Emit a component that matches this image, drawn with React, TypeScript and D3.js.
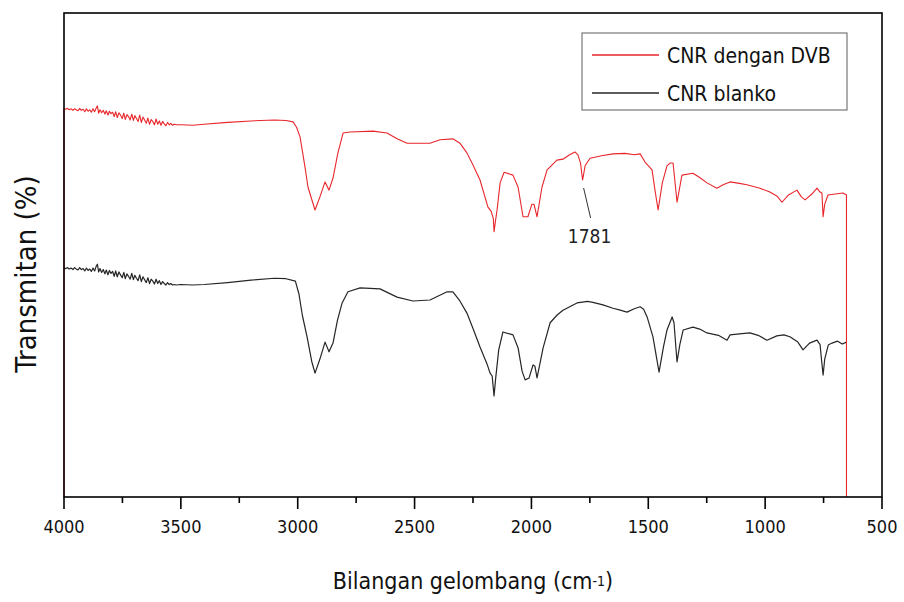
import React from "react";
import * as d3 from "d3";

const xTicks = [4000, 3500, 3000, 2500, 2000, 1500, 1000, 500];
const xMinorTicks = [3750, 3250, 2750, 2250, 1750, 1250, 750];

const seriesNames = ["CNR dengan DVB", "CNR blanko"];
const seriesColors = ["#e8262b", "#262626"];

// [wavenumber (cm-1), transmittance (arbitrary %)]
const redSpectrum: [number, number][] = [
  [4000, 0], [4000, 80.2], [3992, 80.1], [3985, 80.3], [3978, 80.0], [3970, 80.2], [3962, 79.9],
  [3955, 80.2], [3948, 80.0], [3940, 79.8], [3933, 80.3], [3926, 79.9], [3918, 80.1],
  [3911, 79.6], [3904, 80.2], [3897, 79.7], [3890, 80.0], [3883, 79.5], [3876, 80.2],
  [3869, 79.6], [3862, 80.4], [3857, 80.8], [3852, 79.3], [3846, 80.0], [3839, 79.4],
  [3832, 79.9], [3825, 79.1], [3819, 79.8], [3812, 78.9], [3806, 79.7], [3799, 79.2],
  [3792, 79.5], [3785, 78.6], [3779, 79.6], [3772, 78.4], [3765, 79.4], [3758, 78.9],
  [3751, 78.2], [3744, 79.3], [3738, 78.0], [3731, 79.0], [3724, 78.6], [3717, 77.9],
  [3710, 79.1], [3703, 77.8], [3697, 78.8], [3690, 78.2], [3683, 77.6], [3676, 78.9],
  [3669, 77.4], [3662, 78.5], [3655, 77.9], [3648, 77.2], [3641, 78.3], [3634, 77.0],
  [3627, 78.0], [3620, 77.6], [3613, 76.9], [3606, 78.1], [3599, 77.0], [3592, 77.7],
  [3585, 76.8], [3578, 77.6], [3571, 77.1], [3564, 76.7], [3557, 77.4], [3550, 76.9],
  [3543, 77.2], [3536, 76.8], [3529, 77.0], [3520, 76.9], [3500, 76.9],
  [3450, 76.8], [3400, 77.0], [3300, 77.4],
  [3200, 77.7], [3100, 77.9], [3050, 77.8], [3020, 77.5], [3005, 76.4], [2990, 74.4],
  [2969, 68.2], [2956, 64.0], [2926, 59.3], [2905, 62.0], [2883, 65.1], [2866, 63.4],
  [2849, 65.9], [2828, 71.1], [2806, 75.2], [2776, 75.4], [2678, 75.6], [2618, 75.2],
  [2575, 74.0], [2532, 73.1], [2434, 73.1], [2391, 73.8], [2336, 74.0], [2306, 73.1],
  [2276, 71.1], [2250, 68.6], [2220, 65.5], [2186, 59.9], [2172, 59.0], [2163, 57.5],
  [2160, 54.8], [2154, 57.0], [2147, 59.3], [2134, 64.9], [2117, 67.1], [2079, 66.5],
  [2057, 64.0], [2036, 57.9], [2015, 57.9], [1998, 60.5], [1989, 60.5], [1976, 57.9],
  [1955, 64.0], [1933, 67.6], [1891, 69.6], [1865, 69.8], [1840, 70.6], [1814, 71.3],
  [1801, 70.7], [1790, 69.0], [1781, 65.5], [1770, 68.5], [1749, 70.0], [1700, 70.5],
  [1651, 70.9], [1600, 71.0], [1560, 70.7], [1535, 70.9], [1514, 69.2], [1484, 67.6],
  [1470, 63.0], [1458, 59.3], [1440, 64.9], [1420, 68.4], [1407, 69.0], [1394, 69.0],
  [1377, 60.9], [1356, 66.5], [1309, 66.9], [1280, 66.0], [1249, 64.9], [1206, 63.8],
  [1180, 64.5], [1150, 65.1], [1110, 64.8], [1078, 64.5], [1022, 63.8], [980, 63.0],
  [950, 62.2], [928, 60.9], [900, 62.4], [864, 63.4], [845, 62.0], [829, 61.4],
  [800, 62.6], [778, 63.8], [765, 63.0], [757, 62.8], [752, 57.9], [745, 60.5],
  [731, 62.4], [700, 62.6], [667, 62.8], [652, 62.4], [652, 0],
];

const blackSpectrum: [number, number][] = [
  [4000, 47.3], [3992, 47.2], [3985, 47.4], [3978, 47.1], [3970, 47.3], [3962, 47.0],
  [3955, 47.4], [3948, 47.1], [3940, 46.9], [3933, 47.4], [3926, 47.0], [3918, 47.2],
  [3911, 46.7], [3904, 47.3], [3897, 46.8], [3890, 47.1], [3883, 46.6], [3876, 47.3],
  [3869, 46.7], [3862, 47.7], [3857, 48.1], [3852, 46.5], [3846, 47.2], [3839, 46.4],
  [3832, 47.0], [3825, 46.1], [3819, 46.9], [3812, 45.9], [3806, 46.8], [3799, 46.2],
  [3792, 46.6], [3785, 45.6], [3779, 46.7], [3772, 45.5], [3765, 46.5], [3758, 45.9],
  [3751, 45.3], [3744, 46.4], [3738, 45.1], [3731, 46.1], [3724, 45.6], [3717, 45.0],
  [3710, 46.2], [3703, 44.9], [3697, 45.8], [3690, 45.2], [3683, 44.7], [3676, 45.9],
  [3669, 44.5], [3662, 45.5], [3655, 44.9], [3648, 44.3], [3641, 45.3], [3634, 44.1],
  [3627, 45.0], [3620, 44.6], [3613, 44.0], [3606, 45.0], [3599, 44.1], [3592, 44.7],
  [3585, 43.9], [3578, 44.5], [3571, 44.1], [3564, 43.8], [3557, 44.3], [3550, 43.9],
  [3543, 44.1], [3536, 43.8], [3529, 43.9], [3520, 43.8], [3500, 43.9],
  [3450, 43.8], [3400, 43.9], [3300, 44.3], [3200, 44.8],
  [3100, 45.2], [3050, 45.1], [3010, 44.6], [2995, 42.0], [2980, 37.5], [2960, 33.1],
  [2940, 28.0], [2926, 25.6], [2905, 28.5], [2883, 32.0], [2866, 30.0], [2849, 31.8],
  [2830, 36.5], [2810, 40.1], [2785, 42.4], [2733, 43.2], [2648, 43.0], [2575, 41.3],
  [2507, 40.5], [2434, 40.7], [2361, 42.4], [2336, 42.4], [2306, 40.5], [2276, 38.0],
  [2250, 34.8], [2220, 31.0], [2190, 27.5], [2177, 25.6], [2168, 25.0], [2160, 20.9],
  [2153, 24.5], [2140, 30.4], [2122, 34.1], [2079, 33.5], [2057, 30.8], [2040, 26.0],
  [2027, 24.2], [2010, 24.6], [1993, 27.3], [1985, 27.0], [1976, 24.6], [1950, 30.8],
  [1920, 36.0], [1890, 37.6], [1865, 38.6], [1805, 40.1], [1760, 40.4], [1737, 40.2],
  [1694, 39.7], [1651, 39.0], [1620, 38.6], [1591, 38.2], [1560, 38.9], [1535, 39.3],
  [1520, 38.8], [1505, 37.2], [1480, 33.1], [1454, 25.8], [1435, 31.0], [1420, 34.5],
  [1398, 37.2], [1390, 36.0], [1377, 27.9], [1365, 31.5], [1351, 34.5], [1309, 35.1],
  [1280, 34.7], [1249, 33.9], [1200, 33.4], [1163, 32.4], [1150, 33.5], [1110, 33.7],
  [1065, 33.9], [1030, 33.4], [992, 32.4], [950, 33.3], [920, 33.5], [894, 33.1],
  [860, 32.0], [838, 30.4], [810, 31.8], [778, 32.4], [765, 31.5], [758, 28.0],
  [752, 25.2], [745, 28.5], [730, 31.4], [714, 31.8], [690, 32.2], [670, 31.6],
  [652, 32.0],
];

const annotationWavenumber = 1781;
const annotationLabel = "1781";

const W = 904;
const H = 602;
const left = 64;
const right = 882;
const top = 13;
const bottom = 497;

const font = "'DejaVu Sans Condensed', 'DejaVu Sans', sans-serif";

export default function App() {
  const x = d3.scaleLinear().domain([4000, 500]).range([left, right]);
  const y = d3.scaleLinear().domain([0, 100]).range([bottom, top]);
  const line = d3
    .line<[number, number]>()
    .x((d) => x(d[0]))
    .y((d) => y(d[1]));

  const ax = x(annotationWavenumber);

  return (
    <svg
      width={W}
      height={H}
      style={{ position: "absolute", left: 0, top: 0, background: "#fff" }}
      fontFamily={font}
      fontStretch="condensed"
    >
      <rect x={0} y={0} width={W} height={H} fill="#fff" />
      {/* spectra */}
      <path d={line(blackSpectrum) || ""} fill="none" stroke={seriesColors[1]} strokeWidth={1.2} strokeLinejoin="round" />
      <path d={line(redSpectrum) || ""} fill="none" stroke={seriesColors[0]} strokeWidth={1.1} strokeLinejoin="round" />

      {/* frame */}
      <rect x={left} y={top} width={right - left} height={bottom - top} fill="none" stroke="#000" strokeWidth={1.6} />

      {/* x ticks */}
      {xTicks.map((t) => (
        <g key={t}>
          <line x1={x(t)} x2={x(t)} y1={bottom} y2={bottom + 12} stroke="#000" strokeWidth={1.6} />
          <text x={x(t)} y={533} textAnchor="middle" fontSize={18} fill="#111">
            {t}
          </text>
        </g>
      ))}
      {xMinorTicks.map((t) => (
        <line key={t} x1={x(t)} x2={x(t)} y1={bottom} y2={bottom + 6} stroke="#000" strokeWidth={1.6} />
      ))}

      {/* annotation */}
      <line x1={ax + 1} y1={188} x2={ax + 8} y2={218} stroke="#333" strokeWidth={1} />
      <text x={ax + 7} y={243} textAnchor="middle" fontSize={19} fill="#222">
        {annotationLabel}
      </text>

      {/* axis titles */}
      <text x={(left + right) / 2} y={589} textAnchor="middle" fontSize={23} fill="#111">
        Bilangan gelombang (cm
        <tspan fontSize={14} dy={-3}>-1</tspan>
        <tspan dy={3}>)</tspan>
      </text>
      <text
        transform={`translate(36, 274) rotate(-90)`}
        textAnchor="middle"
        fontSize={29}
        fill="#111"
      >
        Transmitan (%)
      </text>

      {/* legend */}
      <rect x={582} y={33} width={265} height={77} fill="#fff" stroke="#777" strokeWidth={1.2} />
      {seriesNames.map((n, i) => (
        <g key={n}>
          <line x1={592} x2={659} y1={55 + i * 38} y2={55 + i * 38} stroke={seriesColors[i]} strokeWidth={1.5} />
          <text x={667} y={63 + i * 38} fontSize={21} fill="#111">
            {n}
          </text>
        </g>
      ))}
    </svg>
  );
}
